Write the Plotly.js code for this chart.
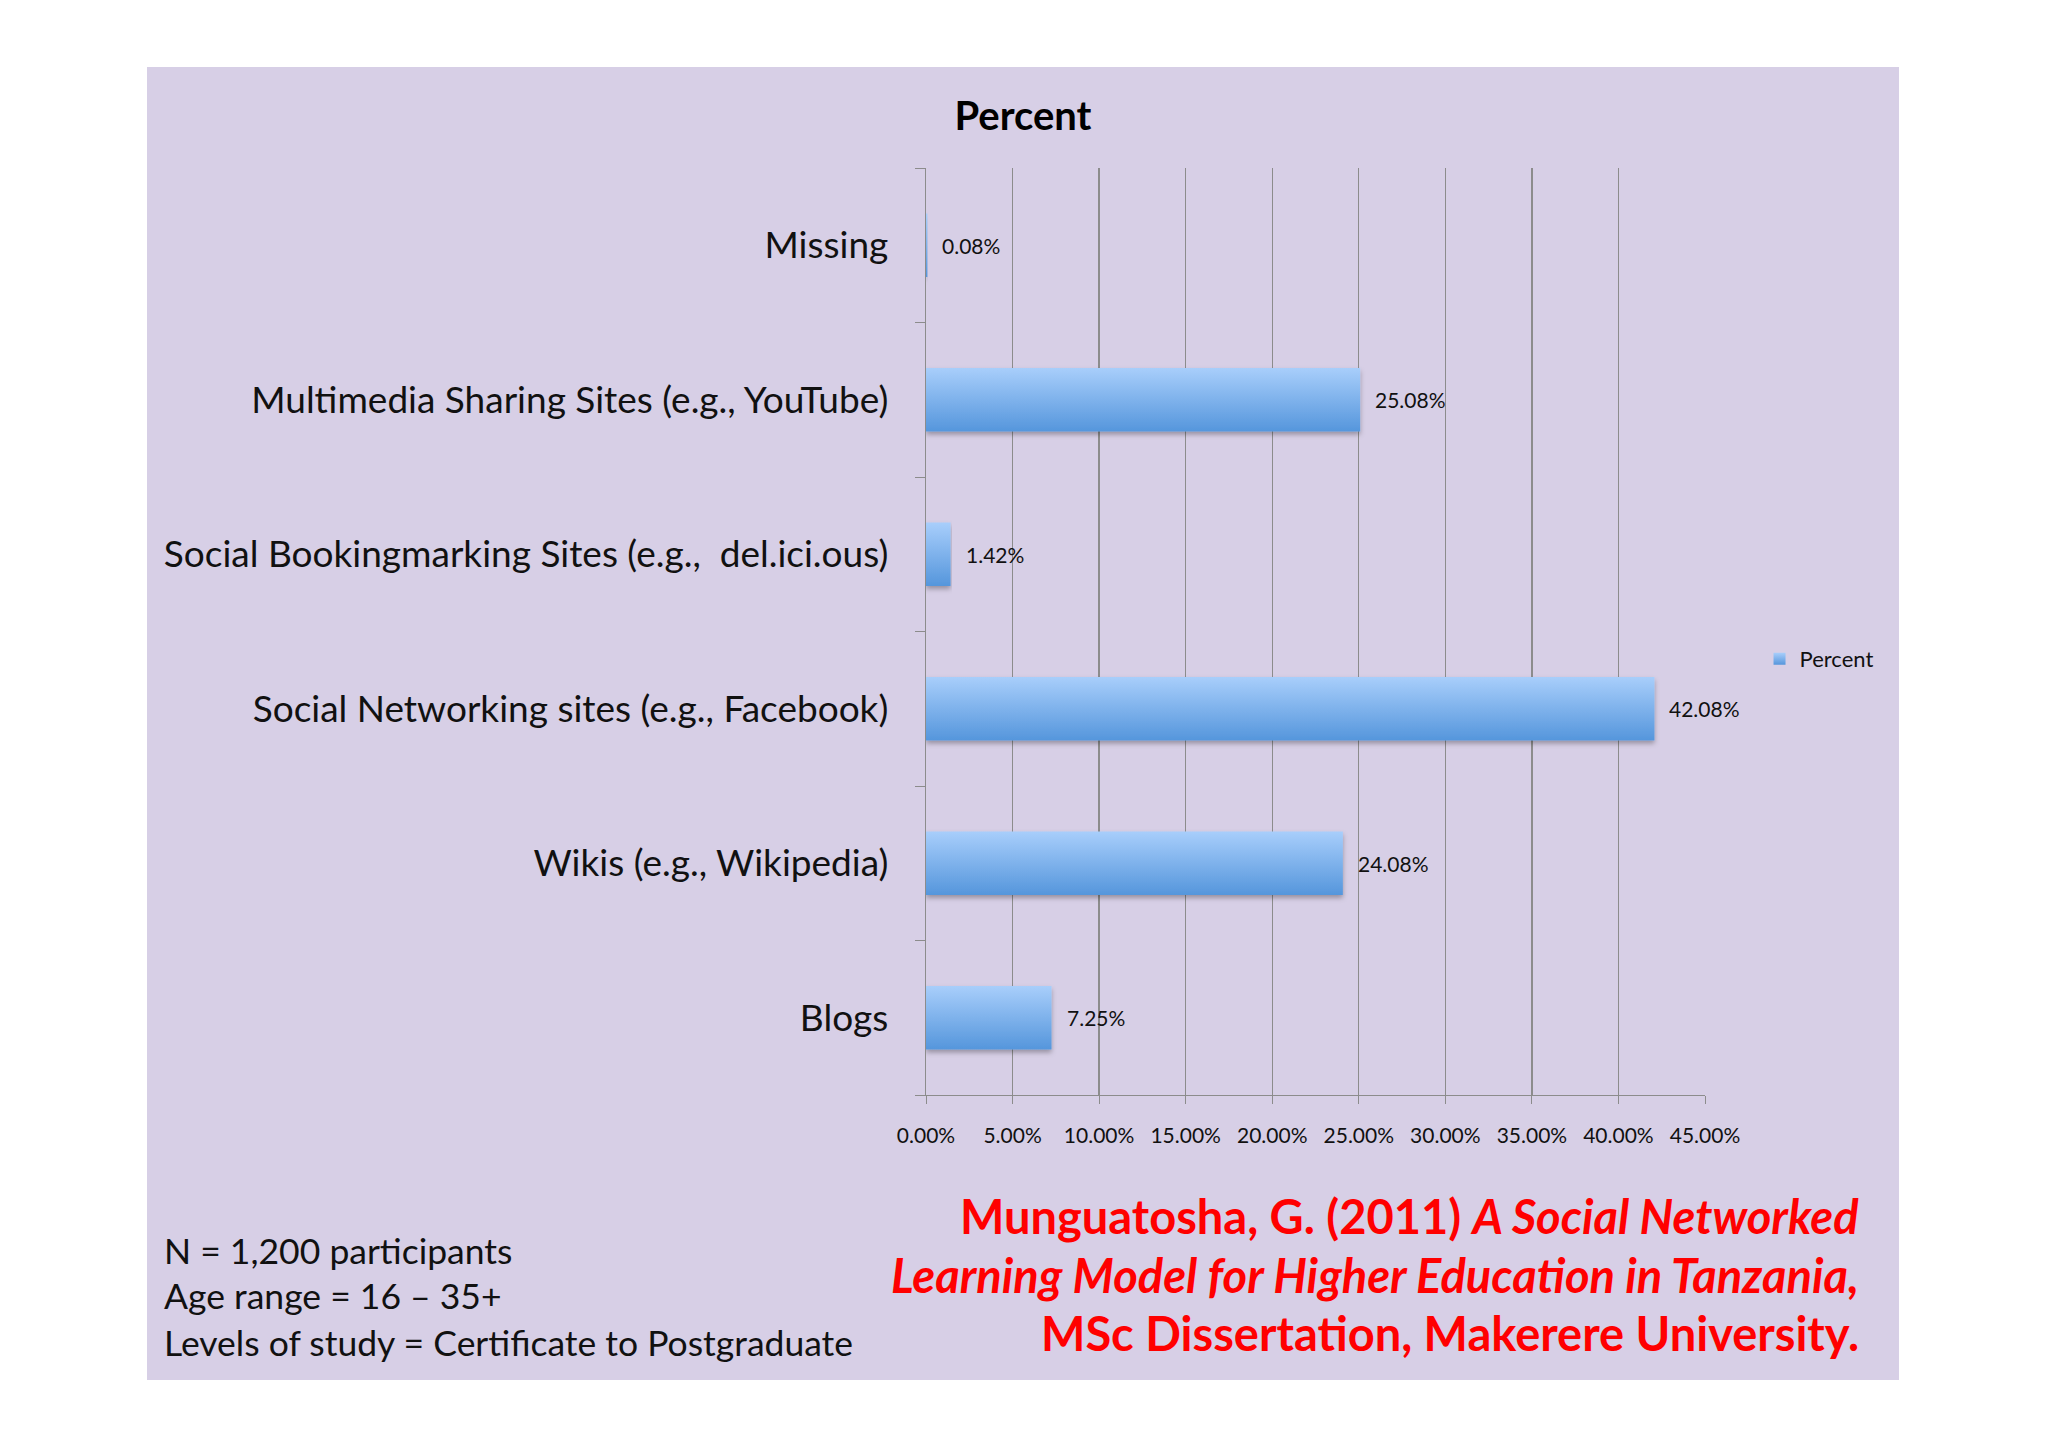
<!DOCTYPE html>
<html>
<head>
<meta charset="utf-8">
<script src="https://cdn.plot.ly/plotly-3.0.1.min.js"></script>
<style>
  body { margin: 0; background: #ffffff; }
  #chart { position: absolute; left: 147px; top: 67px; width: 1752px; height: 1313px; }
</style>
</head>
<body>
<div id="chart"></div>
<script>
// Categories, bottom to top (Plotly draws the first category at the bottom)
const categories = [
    'Blogs',
    'Wikis (e.g., Wikipedia)',
    'Social Networking sites (e.g., Facebook)',
    'Social Bookingmarking Sites (e.g.,\u00a0 del.ici.ous)',
    'Multimedia Sharing Sites (e.g., YouTube)',
    'Missing'
];
const percentValues = [7.25, 24.08, 42.08, 1.42, 25.08, 0.08];
const tickValues = [0, 5, 10, 15, 20, 25, 30, 35, 40, 45];

const sampleNotes = [
    'N = 1,200 participants',
    'Age range = 16 \u2013 35+',
    'Levels of study = Certificate to Postgraduate'
];
const citationLines = [
    '<b>Munguatosha, G. (2011) <i>A Social Networked</i></b>',
    '<b><i>Learning Model for Higher Education in Tanzania,</i></b>',
    '<b>MSc Dissertation, Makerere University.</b>'
];

const FONT = 'Lato, "Open Sans", sans-serif';
const GRID = '#8c8c8c';

// plot area in div pixels, used to place the free text
const W = 1752, H = 1313;
const M = { l: 779, r: 194, t: 101, b: 285 };
const pw = W - M.l - M.r, ph = H - M.t - M.b;
const px = x => (x - M.l) / pw;
const py = y => (H - M.b - y) / ph;

const trace = {
    type: 'bar',
    orientation: 'h',
    name: 'Percent',
    x: percentValues,
    y: categories,
    marker: { color: '#7eb2ee', line: { width: 0 } },
    hoverinfo: 'x+y'
};

const annotations = [];

// value labels next to each bar
percentValues.forEach((v, i) => {
    annotations.push({
        x: v, y: categories[i], xref: 'x', yref: 'y',
        text: v.toFixed(2) + '%',
        showarrow: false, xanchor: 'left', yanchor: 'middle', xshift: 13,
        font: { family: FONT, size: 21, color: '#111111' }
    });
});

// sample notes (bottom left)
const noteY = [1183, 1228, 1275];
sampleNotes.forEach((t, i) => {
    annotations.push({
        x: px(15), y: py(noteY[i]), xref: 'paper', yref: 'paper',
        text: t, showarrow: false, xanchor: 'left', yanchor: 'middle',
        font: { family: FONT, size: 35.5, color: '#111111' }
    });
});

// citation (bottom right, red)
const citeY = [1149, 1208, 1266];
citationLines.forEach((t, i) => {
    annotations.push({
        x: px(1714), y: py(citeY[i]), xref: 'paper', yref: 'paper',
        text: t, showarrow: false, xanchor: 'right', yanchor: 'middle',
        font: { family: FONT, size: 47, color: '#ff0000' }
    });
});

const layout = {
    width: W,
    height: H,
    paper_bgcolor: '#d7cfe6',
    plot_bgcolor: 'rgba(0,0,0,0)',
    margin: M,
    font: { family: FONT, color: '#111111' },
    title: {
        text: '<b>Percent</b>',
        x: 0.5, xref: 'container', xanchor: 'center',
        y: 1 - 49 / H, yref: 'container', yanchor: 'middle',
        font: { family: FONT, size: 40, color: '#000000' }
    },
    bargap: 0.59,
    xaxis: {
        range: [0, 45],
        tickvals: tickValues,
        ticktext: tickValues.map(v => v.toFixed(2) + '%'),
        showgrid: true,
        gridcolor: GRID,
        gridwidth: 1.3,
        zeroline: false,
        showline: true,
        linecolor: GRID,
        linewidth: 1.3,
        ticks: 'outside',
        ticklen: 8,
        tickcolor: GRID,
        ticklabelstandoff: 13,
        tickfont: { family: FONT, size: 21, color: '#111111' },
        fixedrange: true
    },
    yaxis: {
        type: 'category',
        categoryorder: 'array',
        categoryarray: categories,
        showline: true,
        linecolor: GRID,
        linewidth: 1.3,
        ticks: 'outside',
        tickson: 'boundaries',
        ticklen: 10,
        tickcolor: GRID,
        ticklabelstandoff: 29,
        showgrid: false,
        tickfont: { family: FONT, size: 37, color: '#111111' },
        fixedrange: true
    },
    showlegend: true,
    legend: {
        x: 1.07, xanchor: 'left',
        y: py(592), yanchor: 'middle',
        bgcolor: 'rgba(0,0,0,0)',
        font: { family: FONT, size: 22, color: '#111111' },
        itemwidth: 30
    },
    annotations: annotations
};

Plotly.newPlot('chart', [trace], layout, { displayModeBar: false, staticPlot: true }).then(gd => {
    // vertical gradient + soft shadow on the bars, like the original
    const svg = gd.querySelector('svg.main-svg');
    const ns = 'http://www.w3.org/2000/svg';
    const defs = document.createElementNS(ns, 'defs');
    defs.innerHTML =
        '<linearGradient id="barGrad" x1="0" y1="0" x2="0" y2="1">' +
        '<stop offset="0" stop-color="#a8cefb"/>' +
        '<stop offset="1" stop-color="#5596dc"/></linearGradient>' +
        '<filter id="barShadow" x="-5%" y="-20%" width="110%" height="160%">' +
        '<feDropShadow dx="0" dy="3" stdDeviation="2.5" flood-color="#000" flood-opacity="0.3"/></filter>';
    svg.insertBefore(defs, svg.firstChild);
    gd.querySelectorAll('.barlayer .point path').forEach(p => {
        p.style.fill = 'url(#barGrad)';
        p.setAttribute('filter', 'url(#barShadow)');
    });
    gd.querySelectorAll('.legend .legendpoints path').forEach(p => {
        p.style.fill = 'url(#barGrad)';
    });
});
</script>
</body>
</html>
